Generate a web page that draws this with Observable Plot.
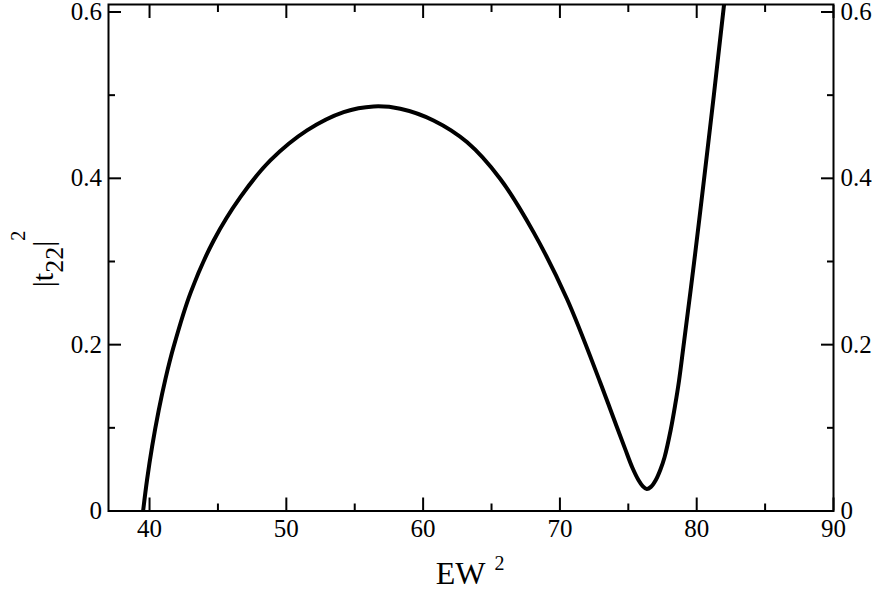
<!DOCTYPE html>
<html>
<head>
<meta charset="utf-8">
<script src="https://cdn.jsdelivr.net/npm/d3@7"></script>
<script src="https://cdn.jsdelivr.net/npm/@observablehq/plot@0.6"></script>
<style>
  html, body { margin: 0; padding: 0; background: #fff; }
  #chart svg { display: block; }
  #chart svg text { font-family: "Liberation Serif", "Times New Roman", Times, "DejaVu Serif", serif; }
</style>
</head>
<body>
<div id="chart"></div>
<script>
// EW^2 values along the curve
const ew2 = [39.53, 39.82, 40.19, 40.67, 41.16, 41.77, 42.99, 44.69, 46.64, 48.83, 51.51, 54.19, 56.38, 58.33, 60.76, 63.2, 65.63, 68.07, 70.51, 72.94, 73.79, 74.76, 75.3, 75.75, 76.05, 76.35, 76.65, 77.0, 77.35, 77.65, 78.09, 78.42, 78.71, 79.04, 79.81, 80.54, 81.25, 82.0, 82.12];
// |t22|^2 values
const t22sq = [0.0, 0.0377, 0.0777, 0.121, 0.1586, 0.198, 0.262, 0.3253, 0.3774, 0.4215, 0.4576, 0.4796, 0.4865, 0.4837, 0.4696, 0.4436, 0.3995, 0.3353, 0.2552, 0.1549, 0.1175, 0.075, 0.052, 0.037, 0.030, 0.0265, 0.029, 0.037, 0.05, 0.0647, 0.0968, 0.1269, 0.157, 0.199, 0.299, 0.3995, 0.4997, 0.609, 0.625];

const xMajorTicks = [40, 50, 60, 70, 80, 90];
const xMinorTicks = [45, 55, 65, 75, 85];
const xTickLabels = ["40", "50", "60", "70", "80", "90"];
const yMajorTicks = [0, 0.2, 0.4, 0.6];
const yMinorTicks = [0.1, 0.3, 0.5];
const yTickLabels = ["0", "0.2", "0.4", "0.6"];

const data = ew2.map((x, i) => ({x, y: t22sq[i]}));

const xFmt = d => xTickLabels[xMajorTicks.indexOf(d)];
const yFmt = d => yTickLabels[yMajorTicks.indexOf(d)];

const fam = "'Liberation Serif', 'Times New Roman', Times, 'DejaVu Serif', serif";
const tickStyle = {strokeWidth: 2, stroke: "#000"};

const svg = Plot.plot({
  width: 875,
  height: 595,
  marginLeft: 108,
  marginRight: 42,
  marginTop: 4,
  marginBottom: 84.5,
  x: {domain: [37, 90]},
  y: {domain: [0, 0.609]},
  style: {fontFamily: fam, fontSize: "25px", color: "#000", background: "#fff"},
  marks: [
    Plot.line(data, {x: "x", y: "y", stroke: "#000", strokeWidth: 4, curve: "catmull-rom", clip: true}),
    // bottom axis: inward major ticks with labels
    Plot.axisX({anchor: "bottom", ticks: xMajorTicks, tickSize: -13, tickPadding: 21, tickFormat: xFmt, label: null, fill: "#000", fontSize: 25, ...tickStyle}),
    Plot.axisX({anchor: "bottom", ticks: xMinorTicks, tickSize: -7, fill: "none", label: null, ...tickStyle}),
    // top axis: ticks only
    Plot.axisX({anchor: "top", ticks: xMajorTicks, tickSize: -13, fill: "none", label: null, ...tickStyle}),
    Plot.axisX({anchor: "top", ticks: xMinorTicks, tickSize: -7, fill: "none", label: null, ...tickStyle}),
    // left axis
    Plot.axisY({anchor: "left", ticks: yMajorTicks, tickSize: -13, tickPadding: 19.5, tickFormat: yFmt, label: null, fill: "#000", fontSize: 25, ...tickStyle}),
    Plot.axisY({anchor: "left", ticks: yMinorTicks, tickSize: -7, fill: "none", label: null, ...tickStyle}),
    // right axis (mirrored labels)
    Plot.axisY({anchor: "right", ticks: yMajorTicks, tickSize: -13, tickPadding: 20, tickFormat: yFmt, label: null, fill: "#000", fontSize: 25, ...tickStyle}),
    Plot.axisY({anchor: "right", ticks: yMinorTicks, tickSize: -7, fill: "none", label: null, ...tickStyle}),
    Plot.frame({stroke: "#000", strokeWidth: 2})
  ]
});

const s = d3.select(svg);
// x-axis label: EW^2
const xl = s.append("text")
  .attr("x", 470).attr("y", 584)
  .attr("text-anchor", "middle")
  .style("font-family", fam).attr("fill", "#000");
xl.append("tspan").attr("font-size", 32).text("EW");
xl.append("tspan").attr("font-size", 20).attr("dx", 9).attr("dy", -14).text("2");

// y-axis label: |t22|^2
const yl = s.append("text")
  .attr("transform", "translate(53,259) rotate(-90)")
  .attr("text-anchor", "middle")
  .style("font-family", fam).attr("fill", "#000");
yl.append("tspan").attr("font-size", 30).text("|t");
yl.append("tspan").attr("font-size", 26).attr("dy", 10).text("22");
yl.append("tspan").attr("font-size", 30).attr("dy", -10).text("|");
yl.append("tspan").attr("font-size", 20).attr("dy", -28).text("2");

document.getElementById("chart").appendChild(svg);
</script>
</body>
</html>
